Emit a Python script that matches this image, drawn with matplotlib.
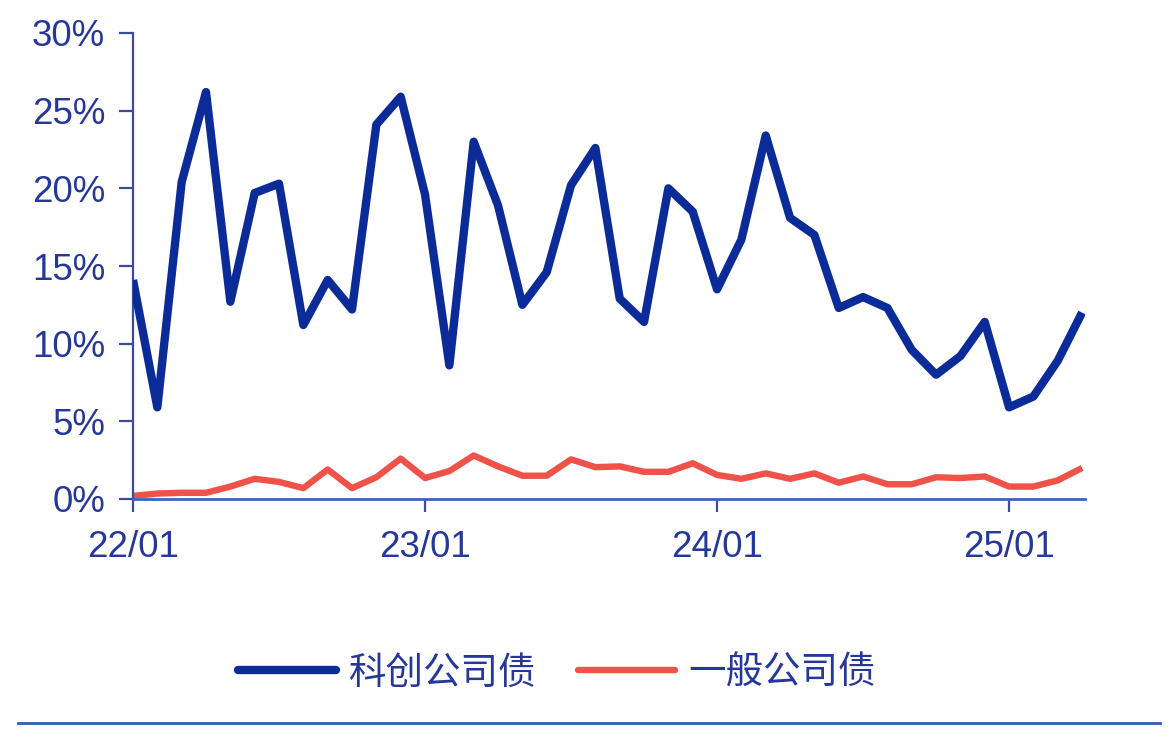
import matplotlib
matplotlib.use("Agg")
import matplotlib.pyplot as plt
from matplotlib.lines import Line2D

plt.rcParams['font.family'] = ['Liberation Sans', 'Noto Sans CJK SC', 'DejaVu Sans']

months = [f"{y}/{m:02d}" for y in (22, 23, 24, 25) for m in range(1, 13)][:40]
kechuang = [14.1, 5.9, 20.4, 26.2, 12.7, 19.7, 20.3, 11.2, 14.1, 12.2,
            24.1, 25.9, 19.6, 8.6, 23.0, 18.9, 12.5, 14.6, 20.2, 22.6,
            12.9, 11.4, 20.0, 18.5, 13.5, 16.7, 23.4, 18.1, 17.0, 12.3,
            13.0, 12.3, 9.6, 8.0, 9.2, 11.4, 5.9, 6.6, 8.9, 12.0]
yiban = [0.2, 0.35, 0.4, 0.4, 0.8, 1.3, 1.1, 0.7, 1.9, 0.7,
         1.4, 2.6, 1.35, 1.8, 2.8, 2.1, 1.5, 1.5, 2.55, 2.05,
         2.1, 1.75, 1.75, 2.3, 1.55, 1.3, 1.65, 1.3, 1.65, 1.05,
         1.45, 0.95, 0.95, 1.4, 1.35, 1.45, 0.8, 0.8, 1.2, 2.0]
series_names = ["科创公司债", "一般公司债"]
xtick_labels = ["22/01", "23/01", "24/01", "25/01"]
ytick_labels = ["0%", "5%", "10%", "15%", "20%", "25%", "30%"]

blue = "#0b2c98"
red = "#ef5249"
axis_col = "#3a4c9e"
text_col = "#26379a"

fig = plt.figure(figsize=(11.74, 7.38), dpi=100)
ax = fig.add_axes([133/1174, 239/738, (1085-133)/1174, 466/738])

x = list(range(len(months)))
ax.plot(x, kechuang, color=blue, lw=6.0, solid_joinstyle='round', solid_capstyle='butt',
        label=series_names[0], zorder=3)
ax.plot(x, yiban, color=red, lw=4.6, solid_joinstyle='round', solid_capstyle='butt',
        label=series_names[1], zorder=2)

ax.set_xlim(0, 39.12)
ax.set_ylim(0, 30)
xt = [months.index(l) for l in xtick_labels]
ax.set_xticks(xt)
ax.set_xticklabels(xtick_labels)
ax.set_yticks([0, 5, 10, 15, 20, 25, 30])
ax.set_yticklabels(ytick_labels)

for s in ("top", "right"):
    ax.spines[s].set_visible(False)
ax.spines["left"].set_color(axis_col)
ax.spines["left"].set_linewidth(1.6)
ax.spines["bottom"].set_color("#3d63c0")
ax.spines["bottom"].set_linewidth(2.0)
ax.tick_params(axis='y', direction='out', length=10, width=1.6, color=axis_col,
               labelsize=26.5, labelcolor=text_col, pad=10)
ax.tick_params(axis='x', direction='out', length=9, width=1.6, color=axis_col,
               labelsize=26.5, labelcolor=text_col, pad=13)
ax.set_facecolor("white")

leg = fig.legend(loc='center', bbox_to_anchor=(557/1174, 1-673/738), ncol=2,
                 frameon=False, handlelength=2.6, handletextpad=0.35,
                 columnspacing=1.1, labelcolor=text_col,
                 prop={'family': ['Noto Sans CJK SC', 'DejaVu Sans'], 'size': 27})
for h in leg.get_lines():
    h.set_solid_capstyle('round')

fig.add_artist(Line2D([18/1174, 1160/1174], [1-723/738, 1-723/738],
                      transform=fig.transFigure, color="#2f5fb0", lw=2))

fig.savefig("out.png", dpi=100, facecolor="white")
